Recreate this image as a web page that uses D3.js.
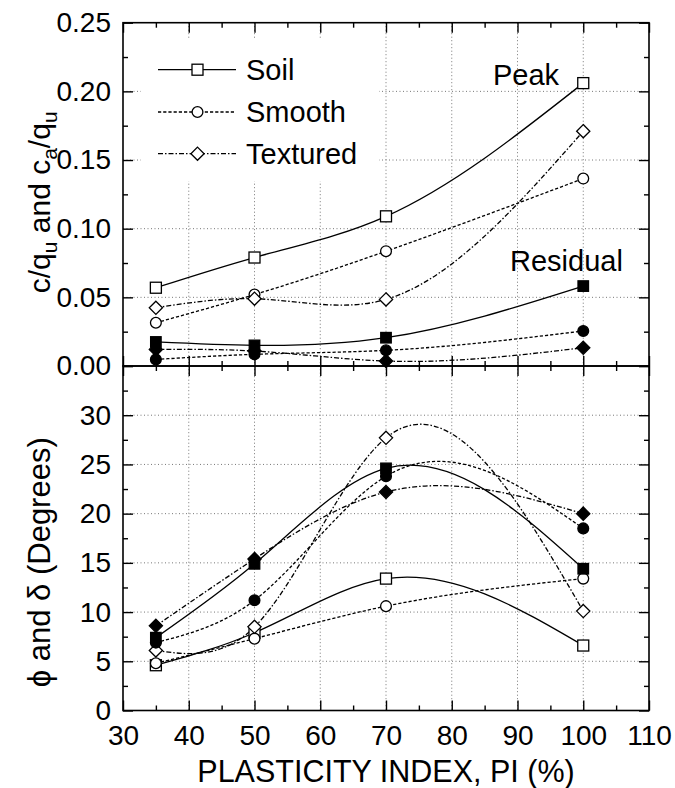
<!DOCTYPE html>
<html>
<head>
<meta charset="utf-8">
<script src="https://cdn.jsdelivr.net/npm/d3@7"></script>
<style>
  html, body { margin: 0; padding: 0; background: #fff; }
  svg { display: block; }
  text { font-family: "Liberation Sans", Arial, Helvetica, sans-serif; fill: #000; }
</style>
</head>
<body>
<svg id="chart" width="675" height="788"></svg>
<script>
// ---------------- DATA ----------------
const plasticityIndex = [35, 50, 70, 100];
const seriesNames = ["Soil", "Smooth", "Textured"];

// Top panel: c/qu and ca/qu
const peakSoilRatio = [0.057, 0.079, 0.109, 0.206];
const peakSmoothRatio = [0.0315, 0.052, 0.0836, 0.1365];
const peakTexturedRatio = [0.0424, 0.049, 0.0485, 0.171];
const residualSoilRatio = [0.0175, 0.015, 0.0206, 0.0582];
const residualSmoothRatio = [0.0048, 0.0085, 0.0114, 0.0255];
const residualTexturedRatio = [0.0121, 0.0109, 0.0036, 0.0133];

// Bottom panel: phi and delta (degrees)
const peakSoilAngle = [4.6, 7.9, 13.4, 6.6];
const peakSmoothAngle = [4.8, 7.3, 10.6, 13.4];
const peakTexturedAngle = [6.1, 8.5, 27.7, 10.1];
const residualSoilAngle = [7.4, 14.9, 24.6, 14.4];
const residualSmoothAngle = [6.9, 11.2, 23.8, 18.5];
const residualTexturedAngle = [8.6, 15.4, 22.2, 20.0];

// Ticks
const xTickLabels = [30, 40, 50, 60, 70, 80, 90, 100, 110];
const xMinorTicks = [35, 45, 55, 65, 75, 85, 95, 105];
const topTickLabels = [0, 0.05, 0.10, 0.15, 0.20, 0.25];
const topMinorTicks = [0.025, 0.075, 0.125, 0.175, 0.225];
const bottomTickLabels = [0, 5, 10, 15, 20, 25, 30];
const bottomMajorTicks = [0, 5, 10, 15, 20, 25, 30, 35];
const bottomMinorTicks = [2.5, 7.5, 12.5, 17.5, 22.5, 27.5, 32.5];

// ---------------- LAYOUT ----------------
const L = 123, R = 649, T = 22.7, M = 366, B = 710.5;
const svg = d3.select("#chart");

const x = d3.scaleLinear().domain([30, 110]).range([L, R]);
const yTop = d3.scaleLinear().domain([0, 0.25]).range([M, T]);
const yBot = d3.scaleLinear().domain([0, 35]).range([B, M]);

const styles = {
  Soil: { dash: null, marker: "square" },
  Smooth: { dash: "3.2,2", marker: "circle" },
  Textured: { dash: "5,2,1.5,2", marker: "diamond" }
};

// Custom d3 curve: natural cubic spline of y as a function of x
function curveSplineX(context) {
  return {
    areaStart() {}, areaEnd() {},
    lineStart() { this._xs = []; this._ys = []; },
    point(px, py) { this._xs.push(+px); this._ys.push(+py); },
    lineEnd() {
      const xs = this._xs, ys = this._ys, n = xs.length;
      if (!n) return;
      context.moveTo(xs[0], ys[0]);
      if (n === 1) return;
      const h = [];
      for (let i = 0; i < n - 1; i++) h.push(xs[i + 1] - xs[i]);
      const Mv = new Array(n).fill(0);
      if (n > 2) {
        const m = n - 2, a = [], b = [], c = [], d = [];
        for (let i = 1; i < n - 1; i++) {
          a.push(h[i - 1]); b.push(2 * (h[i - 1] + h[i])); c.push(h[i]);
          d.push(6 * ((ys[i + 1] - ys[i]) / h[i] - (ys[i] - ys[i - 1]) / h[i - 1]));
        }
        for (let i = 1; i < m; i++) {
          const w = a[i] / b[i - 1];
          b[i] -= w * c[i - 1]; d[i] -= w * d[i - 1];
        }
        const sol = new Array(m);
        sol[m - 1] = d[m - 1] / b[m - 1];
        for (let i = m - 2; i >= 0; i--) sol[i] = (d[i] - c[i] * sol[i + 1]) / b[i];
        for (let i = 0; i < m; i++) Mv[i + 1] = sol[i];
      }
      for (let i = 0; i < n - 1; i++) {
        const hi = h[i], dy = (ys[i + 1] - ys[i]) / hi;
        const s0 = dy - hi * (2 * Mv[i] + Mv[i + 1]) / 6;
        const s1 = dy + hi * (Mv[i] + 2 * Mv[i + 1]) / 6;
        context.bezierCurveTo(xs[i] + hi / 3, ys[i] + s0 * hi / 3,
          xs[i + 1] - hi / 3, ys[i + 1] - s1 * hi / 3, xs[i + 1], ys[i + 1]);
      }
    }
  };
}

// ---------------- GRID ----------------
const grid = svg.append("g").attr("stroke", "#777").attr("stroke-width", 1)
  .attr("stroke-dasharray", "1,2.5").attr("fill", "none");
const xGrid = [40, 50, 60, 70, 80, 90, 100];
xGrid.forEach(v => {
  grid.append("line").attr("x1", x(v)).attr("x2", x(v)).attr("y1", T).attr("y2", B);
});
[0.05, 0.10, 0.15, 0.20].forEach(v => {
  grid.append("line").attr("x1", L).attr("x2", R).attr("y1", yTop(v)).attr("y2", yTop(v));
});
[5, 10, 15, 20, 25, 30].forEach(v => {
  grid.append("line").attr("x1", L).attr("x2", R).attr("y1", yBot(v)).attr("y2", yBot(v));
});

// Legend background box (hides grid)
svg.append("rect").attr("x", 141).attr("y", 40).attr("width", 238).attr("height", 141).attr("fill", "#fff");

// ---------------- MARKERS ----------------
function drawMarker(g, type, cx, cy, filled) {
  const fill = filled ? "#000" : "#fff";
  let m;
  if (type === "square") {
    const s = filled ? 10.5 : 11;
    m = g.append("rect").attr("x", cx - s / 2).attr("y", cy - s / 2).attr("width", s).attr("height", s);
  } else if (type === "circle") {
    m = g.append("circle").attr("cx", cx).attr("cy", cy).attr("r", 5.4);
  } else {
    const hh = 6.6;
    m = g.append("path").attr("d", `M${cx},${cy - hh}L${cx + hh},${cy}L${cx},${cy + hh}L${cx - hh},${cy}Z`);
  }
  m.attr("fill", fill).attr("stroke", "#000").attr("stroke-width", 1.3);
}

// ---------------- SERIES ----------------
const topSeries = [
  { name: "Soil", vals: peakSoilRatio, filled: false },
  { name: "Smooth", vals: peakSmoothRatio, filled: false },
  { name: "Textured", vals: peakTexturedRatio, filled: false },
  { name: "Soil", vals: residualSoilRatio, filled: true },
  { name: "Smooth", vals: residualSmoothRatio, filled: true },
  { name: "Textured", vals: residualTexturedRatio, filled: true }
];
const bottomSeries = [
  { name: "Soil", vals: peakSoilAngle, filled: false },
  { name: "Smooth", vals: peakSmoothAngle, filled: false },
  { name: "Textured", vals: peakTexturedAngle, filled: false },
  { name: "Soil", vals: residualSoilAngle, filled: true },
  { name: "Smooth", vals: residualSmoothAngle, filled: true },
  { name: "Textured", vals: residualTexturedAngle, filled: true }
];

function drawPanel(series, yScale) {
  const gl = svg.append("g");
  series.forEach(s => {
    const line = d3.line()
      .x((d, i) => x(plasticityIndex[i]))
      .y(d => yScale(d))
      .curve(curveSplineX);
    gl.append("path").attr("d", line(s.vals))
      .attr("fill", "none").attr("stroke", "#000").attr("stroke-width", 1.3)
      .attr("stroke-dasharray", styles[s.name].dash);
  });
  const gm = svg.append("g");
  series.forEach(s => {
    s.vals.forEach((v, i) => drawMarker(gm, styles[s.name].marker, x(plasticityIndex[i]), yScale(v), s.filled));
  });
}
drawPanel(topSeries, yTop);
drawPanel(bottomSeries, yBot);

// ---------------- FRAMES & TICKS ----------------
const frame = svg.append("g").attr("fill", "none").attr("stroke", "#000").attr("stroke-width", 1.6);
frame.append("rect").attr("x", L).attr("y", T).attr("width", R - L).attr("height", M - T);
frame.append("rect").attr("x", L).attr("y", M).attr("width", R - L).attr("height", B - M);

function inwardAxis(axisFn, scale, major, minor, pos, fmt, pad) {
  const g1 = svg.append("g").attr("transform", pos).call(
    axisFn(scale).tickValues(major).tickSize(-10).tickPadding(pad).tickFormat(fmt));
  const g2 = svg.append("g").attr("transform", pos).call(
    axisFn(scale).tickValues(minor).tickSize(-5).tickFormat(""));
  [g1, g2].forEach(g => {
    g.select(".domain").remove();
    g.selectAll(".tick line").attr("stroke", "#000").attr("stroke-width", 1.4);
  });
  g1.selectAll(".tick text").style("font-size", "28px")
    .style("font-family", '"Liberation Sans", Arial, sans-serif').attr("fill", "#000");
  return g1;
}
inwardAxis(d3.axisTop, x, xTickLabels, xMinorTicks, `translate(0,${T})`, "", 0);
inwardAxis(d3.axisBottom, x, xTickLabels, xMinorTicks, `translate(0,${M})`, "", 0);
inwardAxis(d3.axisTop, x, xTickLabels, xMinorTicks, `translate(0,${M})`, "", 0);
inwardAxis(d3.axisBottom, x, xTickLabels, xMinorTicks, `translate(0,${B})`, d3.format("d"), 15);
inwardAxis(d3.axisLeft, yTop, topTickLabels, topMinorTicks, `translate(${L},0)`, d3.format(".2f"), 12);
inwardAxis(d3.axisRight, yTop, topTickLabels, topMinorTicks, `translate(${R},0)`, "", 0);
inwardAxis(d3.axisLeft, yBot, bottomMajorTicks, bottomMinorTicks, `translate(${L},0)`,
  d => bottomTickLabels.includes(d) ? d3.format("d")(d) : "", 12);
inwardAxis(d3.axisRight, yBot, bottomMajorTicks, bottomMinorTicks, `translate(${R},0)`, "", 0);

// ---------------- LEGEND ----------------
const legendRows = [69.7, 112, 153.7];
seriesNames.forEach((name, i) => {
  const yy = legendRows[i];
  svg.append("line").attr("x1", 158).attr("x2", 236).attr("y1", yy).attr("y2", yy)
    .attr("stroke", "#000").attr("stroke-width", 1.3).attr("stroke-dasharray", styles[name].dash);
  drawMarker(svg, styles[name].marker, 197.5, yy, false);
  svg.append("text").attr("x", 246).attr("y", yy).attr("dy", "0.36em")
    .style("font-size", "29px").text(name);
});

// ---------------- ANNOTATIONS ----------------
svg.append("text").attr("x", 493).attr("y", 85).style("font-size", "29px").text("Peak");
svg.append("text").attr("x", 510).attr("y", 270.7).style("font-size", "29px").text("Residual");

// ---------------- AXIS TITLES ----------------
svg.append("text").attr("x", (L + R) / 2).attr("y", 782).attr("text-anchor", "middle")
  .style("font-size", "30.5px").text("PLASTICITY INDEX, PI (%)");

const tTop = svg.append("text").attr("transform", `translate(50,${(T + M) / 2 + 8}) rotate(-90)`)
  .attr("text-anchor", "middle").style("font-size", "30px");
tTop.append("tspan").text("c/q");
tTop.append("tspan").attr("baseline-shift", "-33%").style("font-size", "21px").text("u");
tTop.append("tspan").text(" and c");
tTop.append("tspan").attr("baseline-shift", "-33%").style("font-size", "21px").text("a");
tTop.append("tspan").text("/q");
tTop.append("tspan").attr("baseline-shift", "-33%").style("font-size", "21px").text("u");

svg.append("text").attr("transform", `translate(50,${(M + B) / 2 + 24}) rotate(-90)`)
  .attr("text-anchor", "middle").style("font-size", "31px").text("ϕ and δ (Degrees)");
</script>
</body>
</html>
